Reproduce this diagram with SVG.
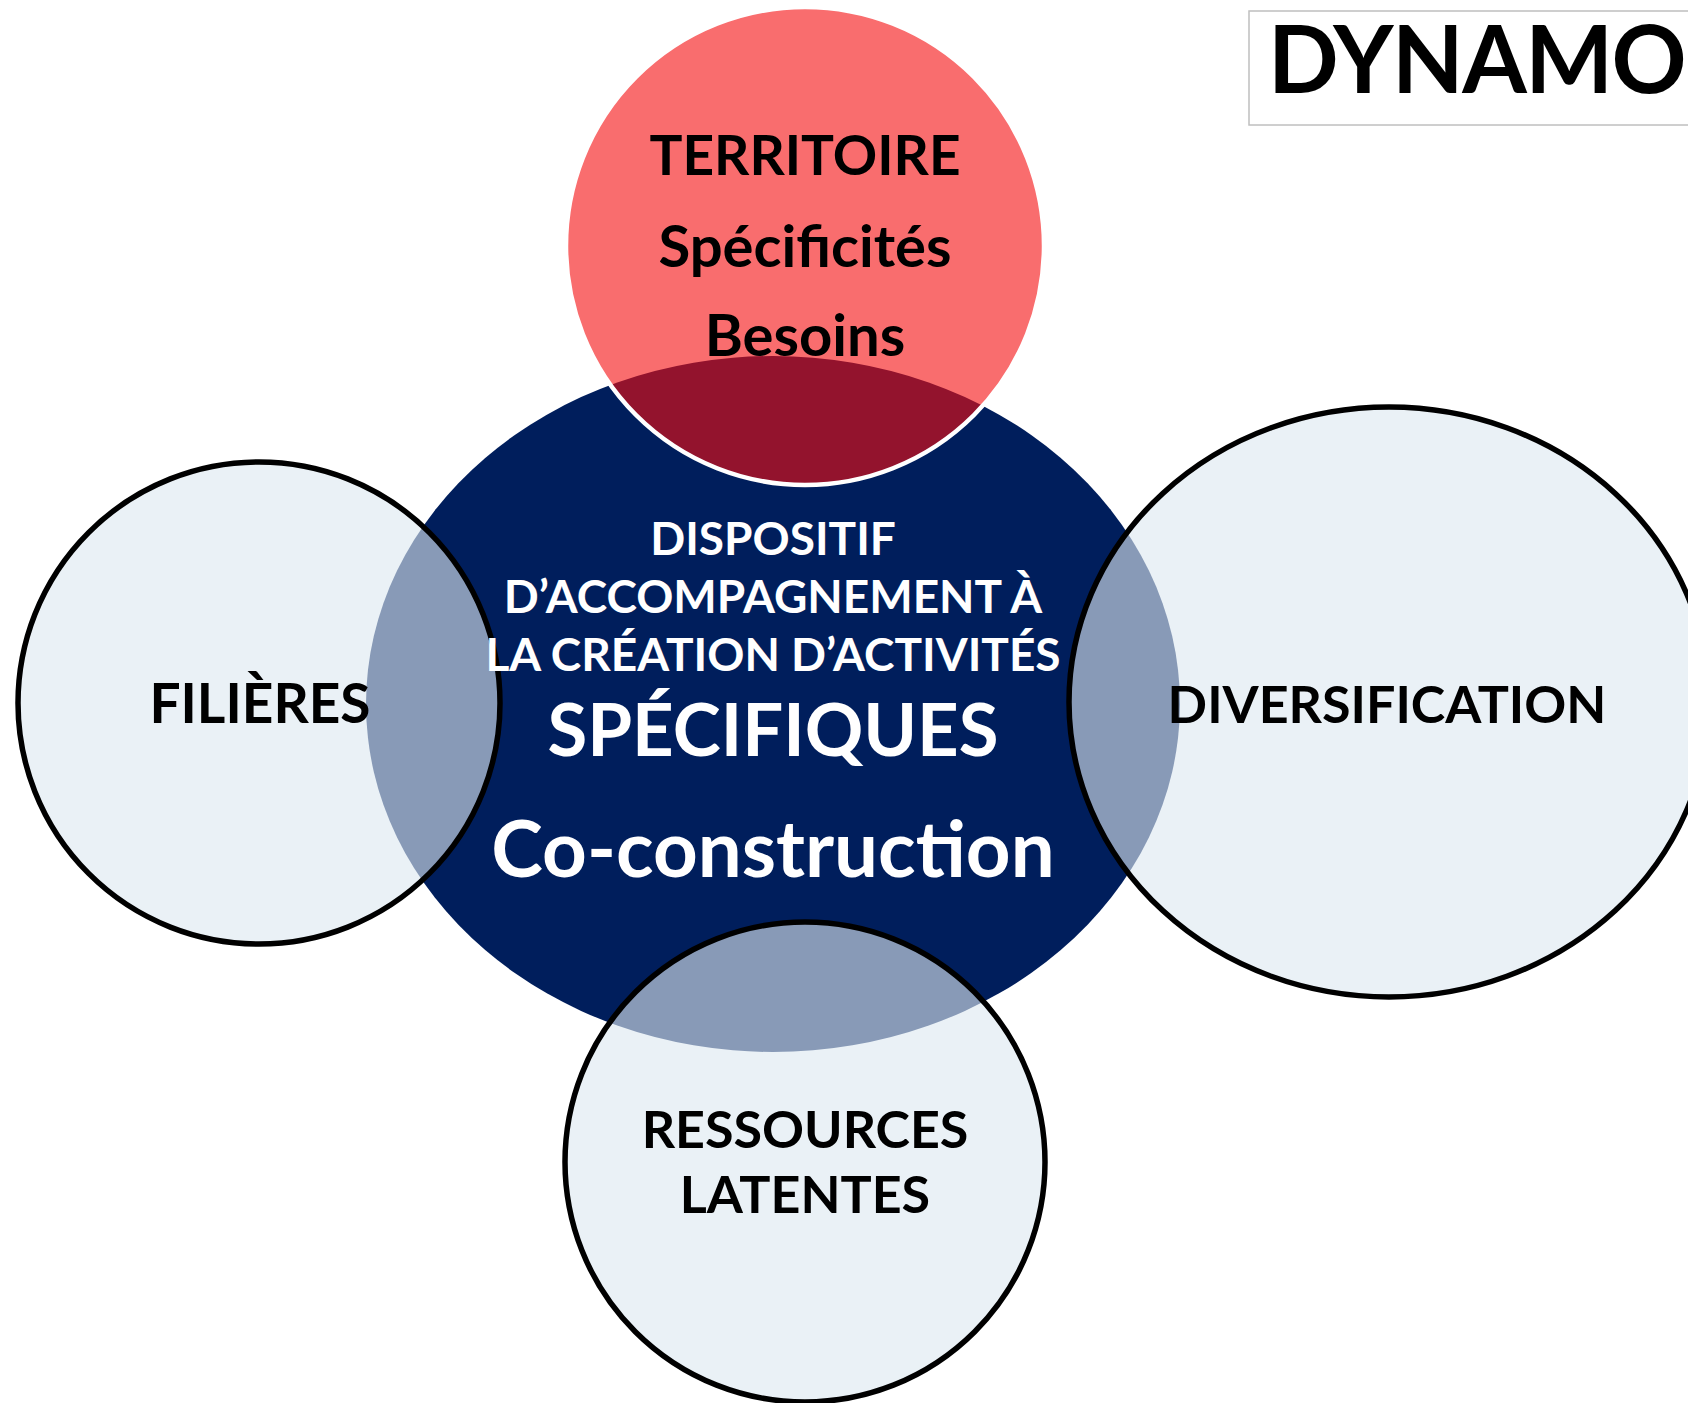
<svg xmlns="http://www.w3.org/2000/svg" width="1688" height="1403" viewBox="0 0 1688 1403">
<style>
.t{font-family:Lato,"Noto Sans","Liberation Sans",sans-serif;font-weight:bold;text-anchor:middle}
.dark{fill:#000}
.light{fill:#fff}
.side{fill:#DDE8F0;fill-opacity:0.616;stroke:#000;stroke-width:5.5}
</style>
<rect width="1688" height="1403" fill="#fff"/>
<g id="logo">
<rect x="1249" y="11" width="450" height="114" fill="#fff" stroke="#BFBFBF" stroke-width="1.5"/>
<text x="1268" y="93" font-family="Lato,'Liberation Sans',sans-serif" font-weight="bold" font-size="93" letter-spacing="-1.5" fill="#000">DYNAMO</text>
</g>
<g id="dispositif">
<ellipse cx="773" cy="704" rx="407" ry="348" fill="#001E5C"/>
</g>
<g id="territoire">
<circle cx="805" cy="246" r="239" fill="#F50C0E" fill-opacity="0.6" stroke="#fff" stroke-width="4.5"/>
<text class="t dark" x="805" y="175" font-size="55">TERRITOIRE</text>
<text class="t dark" x="805" y="267" font-size="58">Spécificités</text>
<text class="t dark" x="805" y="356" font-size="58">Besoins</text>
</g>
<g id="filieres">
<circle class="side" cx="259" cy="703" r="241"/>
<text class="t dark" x="260" y="723" font-size="55">FILIÈRES</text>
</g>
<g id="diversification">
<ellipse class="side" cx="1389" cy="702" rx="320" ry="295"/>
<text class="t dark" x="1387" y="723" font-size="52">DIVERSIFICATION</text>
</g>
<g id="ressources">
<circle class="side" cx="805" cy="1162" r="240"/>
<text class="t dark" x="805" y="1148" font-size="52">RESSOURCES</text>
<text class="t dark" x="805" y="1213" font-size="52">LATENTES</text>
</g>
<g id="dispositif-label">
<text class="t light" x="773" y="555" font-size="46">DISPOSITIF</text>
<text class="t light" x="773" y="613" font-size="46">D’ACCOMPAGNEMENT À</text>
<text class="t light" x="773" y="671" font-size="46">LA CRÉATION D’ACTIVITÉS</text>
<text class="t light" x="773" y="756" font-size="72.5">SPÉCIFIQUES</text>
<text class="t light" x="773" y="877" font-size="78">Co-construction</text>
</g>
<g id="connectors"/>
</svg>
